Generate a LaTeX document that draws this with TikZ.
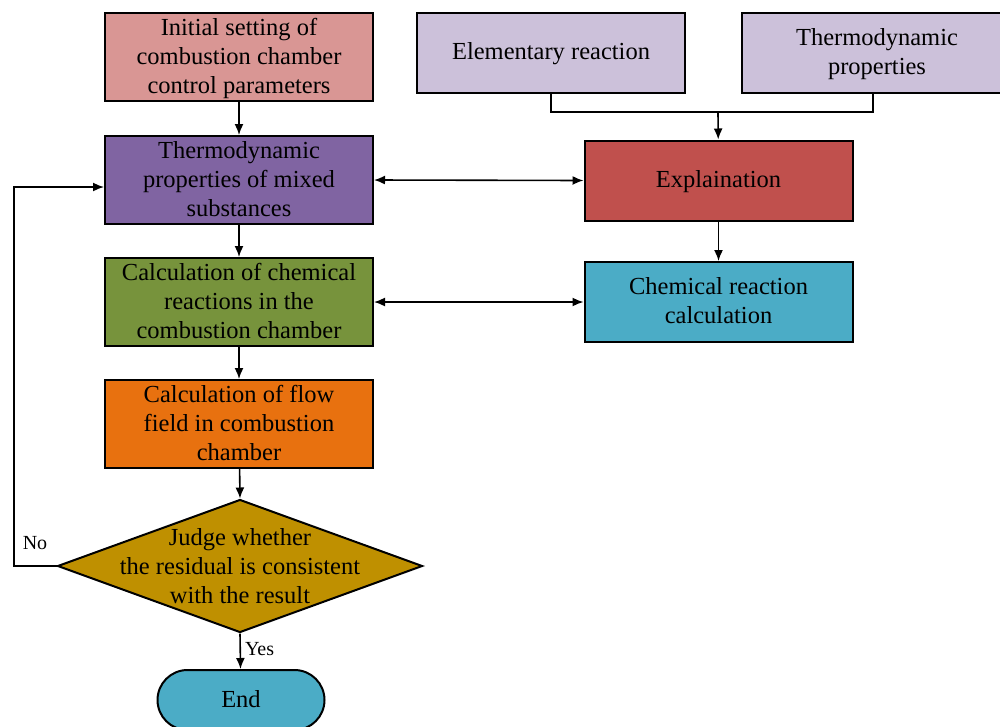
\documentclass[tikz,border=0pt]{standalone}
\usepackage{fontspec}
\setmainfont{Liberation Serif}
\usetikzlibrary{arrows.meta,shapes.geometric}
\definecolor{cInit}{HTML}{D99694}
\definecolor{cMix}{HTML}{8064A2}
\definecolor{cChem}{HTML}{77933C}
\definecolor{cFlow}{HTML}{E8710F}
\definecolor{cDia}{HTML}{BF9000}
\definecolor{cLav}{HTML}{CCC1DA}
\definecolor{cRed}{HTML}{C0504D}
\definecolor{cTeal}{HTML}{4BACC6}
\newcommand{\tstrut}{\rule{0pt}{21pt}}
\newcommand{\bstrut}{\rule[-7pt]{0pt}{7pt}}
\begin{document}
\begin{tikzpicture}[x=1pt,y=-1pt,
  box/.style={draw=black, line width=2pt, minimum width=268pt, minimum height=88pt, align=center, inner sep=0pt, font=\fontsize{24.5}{29}\selectfont},
  sbox/.style={box, minimum height=80pt},
  arr/.style={line width=1.6pt, -{Latex[length=11pt,width=9pt]}},
  darr/.style={line width=1.6pt, {Latex[length=11pt,width=9pt]}-{Latex[length=11pt,width=9pt]}},
  lbl/.style={font=\fontsize{20}{22}\selectfont, inner sep=0pt}]
\useasboundingbox (0,0) rectangle (1000,726);
\clip (0,0) rectangle (1000,726);
\node[box, fill=cInit] (init) at (239,57) {\tstrut Initial setting of\\combustion chamber\\control parameters\bstrut};
\node[box, fill=cMix] (mix) at (239,180) {\tstrut Thermodynamic\\properties of mixed\\substances\bstrut};
\node[box, fill=cChem] (chem) at (239,302) {\tstrut Calculation of chemical\\reactions in the\\combustion chamber\bstrut};
\node[box, fill=cFlow] (flow) at (239,424) {\tstrut Calculation of flow\\field in combustion\\chamber\bstrut};
\node[diamond, draw=black, line width=2pt, fill=cDia, minimum width=365pt, minimum height=133pt, inner sep=0pt] (dia) at (240,566) {};
\node[align=center, inner sep=0pt, font=\fontsize{24.5}{29}\selectfont] (diatext) at (240,567) {\tstrut Judge whether\\the residual is consistent\\with the result\bstrut};
\node[draw=black, line width=2pt, fill=cTeal, rounded corners=30pt, minimum width=167pt, minimum height=60pt, inner sep=0pt, font=\fontsize{24.5}{29}\selectfont] (endn) at (241,700) {\tstrut End\bstrut};
\node[sbox, fill=cLav] (elem) at (551,52.5) {\tstrut Elementary reaction\bstrut};
\node[sbox, fill=cLav, minimum width=262pt] (thermo) at (873,52.5) {\tstrut\hspace*{8pt}Thermodynamic\\\hspace*{8pt}properties\bstrut};
\node[sbox, fill=cRed] (expl) at (718.5,180.5) {\tstrut Explaination\bstrut};
\node[sbox, fill=cTeal] (crc) at (718.5,302) {\tstrut Chemical reaction\\calculation\bstrut};
\coordinate (join) at (718,112);
\coordinate (elemturn) at (551,112);
\coordinate (noturn) at (14,566);
\draw[line width=1.6pt] (elem.south) -- (elemturn) -| (thermo.south);
\draw[arr] (join) -- (expl);
\draw[arr] (expl) -- (crc);
\draw[arr] (init) -- (mix);
\draw[arr] (mix) -- (chem);
\draw[arr] (chem) -- (flow);
\draw[arr] (flow) -- (dia.north);
\draw[arr] (dia.south) -- (endn) node[lbl, pos=0.45, right=4pt] (yes) {Yes};
\draw[arr] (dia.west) -- (noturn) |- ([yshift=-7pt]mix.west);
\node[lbl] (no) at (35,543) {No};
\draw[darr] (mix.east) -- (expl.west);
\draw[darr] (chem.east) -- (crc.west);
\end{tikzpicture}
\end{document}
